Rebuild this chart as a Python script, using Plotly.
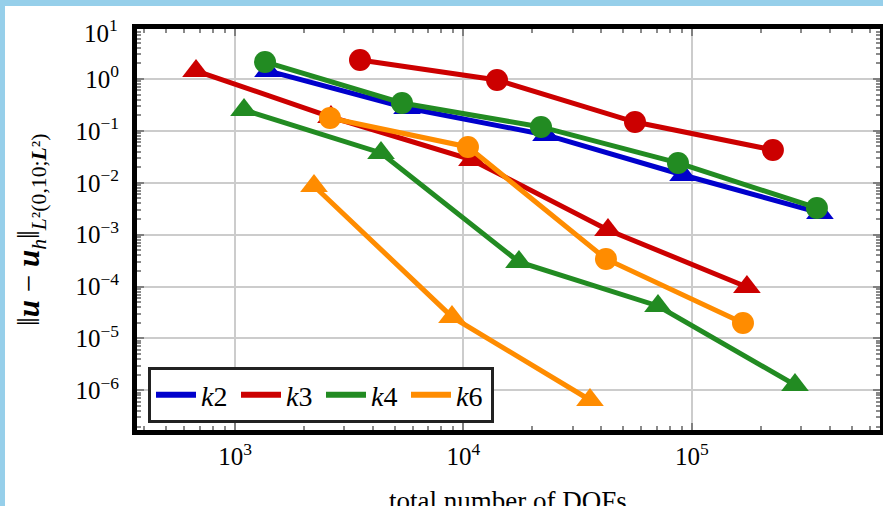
import plotly.graph_objects as go

# ---------------- data ----------------
series_names = ["k2", "k3", "k4", "k6"]
series_colors = ["#0000cc", "#cc0000", "#228b22", "#ff8c00"]

k2_tri_dofs = [1394, 5662, 22970, 91400, 363100]
k2_tri_err = [1.43, 0.276, 0.0834, 0.0141, 0.00262]

k3_circ_dofs = [3524, 14020, 56310, 226100]
k3_circ_err = [2.32, 0.957, 0.148, 0.0429]
k3_tri_dofs = [675, 2630, 10890, 42890, 174000]
k3_tri_err = [1.43, 0.185, 0.0275, 0.00123, 9.8e-5]

k4_circ_dofs = [1353, 5380, 21840, 86850, 352300]
k4_circ_err = [2.13, 0.345, 0.119, 0.0241, 0.00327]
k4_tri_dofs = [1095, 4355, 17490, 71000, 282400]
k4_tri_err = [0.253, 0.0375, 2.98e-4, 4.22e-5, 1.27e-6]

k6_circ_dofs = [2604, 10460, 42030, 167200]
k6_circ_err = [0.177, 0.049, 3.40e-4, 1.99e-5]
k6_tri_dofs = [2217, 8906, 35780]
k6_tri_err = [8.68e-3, 2.6e-5, 6.5e-7]

x_tick_vals = [1e3, 1e4, 1e5]
x_tick_text = ["10<sup>3</sup>", "10<sup>4</sup>", "10<sup>5</sup>"]
y_tick_vals = [1e0, 1e-1, 1e-2, 1e-3, 1e-4, 1e-5, 1e-6]
y_tick_text = ["10<sup>0</sup>", "10<sup>−1</sup>", "10<sup>−2</sup>", "10<sup>−3</sup>",
               "10<sup>−4</sup>", "10<sup>−5</sup>", "10<sup>−6</sup>"]
y_top_label = "10<sup>1</sup>"

x_range_log = [2.571, 5.823]
y_range_log = [-6.765, 0.963]

# ---------------- layout geometry ----------------
W, H = 883, 506
PL, PR, PT, PB = 137, 880, 29, 430
FONT = "Liberation Serif"
LW = 5

def px_x(p):
    return (p - PL) / (PR - PL)

def px_y(p):
    return (PB - p) / (PB - PT)

fig = go.Figure()

def add_series(xs, ys, color, symbol, size):
    fig.add_trace(go.Scatter(
        x=xs, y=ys, mode="lines+markers", showlegend=False,
        line=dict(color=color, width=LW),
        marker=dict(symbol=symbol, size=size, color=color,
                    line=dict(width=0)),
        hoverinfo="skip"))

TRI, CIRC = 24, 22
add_series(k2_tri_dofs, k2_tri_err, series_colors[0], "triangle-up", TRI)
add_series(k3_circ_dofs, k3_circ_err, series_colors[1], "circle", CIRC)
add_series(k3_tri_dofs, k3_tri_err, series_colors[1], "triangle-up", TRI)
add_series(k4_circ_dofs, k4_circ_err, series_colors[2], "circle", CIRC)
add_series(k4_tri_dofs, k4_tri_err, series_colors[2], "triangle-up", TRI)
add_series(k6_circ_dofs, k6_circ_err, series_colors[3], "circle", CIRC)
add_series(k6_tri_dofs, k6_tri_err, series_colors[3], "triangle-up", TRI)

# legend entries (line only)
for name, color in zip(series_names, series_colors):
    fig.add_trace(go.Scatter(
        x=[None], y=[None], mode="lines", name="<i>k</i>" + name[1:],
        line=dict(color=color, width=6)))

minor = dict(ticks="inside", ticklen=4, tickwidth=1.5, tickcolor="#8a8a8a",
             dtick="D1", showgrid=False)

axis_common = dict(
    type="log", showline=True, linecolor="black", linewidth=LW, mirror="allticks",
    ticks="inside", ticklen=7, tickwidth=2, tickcolor="#808080",
    showgrid=True, gridcolor="#cccccc", gridwidth=1.5,
    tickmode="array", zeroline=False,
    tickfont=dict(family=FONT, size=25, color="black"),
    minor=minor,
)

fig.update_xaxes(range=x_range_log, tickvals=x_tick_vals, ticktext=x_tick_text,
                 **axis_common)
fig.update_yaxes(range=y_range_log, tickvals=y_tick_vals, ticktext=y_tick_text,
                 ticklabelstandoff=8, **axis_common)

annotations = [
    dict(text=y_top_label, xref="paper", yref="paper",
         x=px_x(120), y=px_y(31), xanchor="right", yanchor="middle",
         showarrow=False, font=dict(family=FONT, size=25, color="black")),
    dict(text="total number of DOFs", xref="paper", yref="paper",
         x=px_x(508), y=px_y(501), xanchor="center", yanchor="middle",
         showarrow=False, font=dict(family=FONT, size=27, color="black")),
    dict(text="‖<b><i>u</i></b> − <b><i>u</i></b><sub><i>h</i></sub>‖"
              "<sub><i>L</i>²(0,10;<b><i>L</i></b>²)</sub>",
         xref="paper", yref="paper", x=px_x(31), y=px_y(230),
         xanchor="center", yanchor="middle", textangle=-90,
         showarrow=False, font=dict(family=FONT, size=31, color="black")),
]

blue = "#96cfea"
shapes = [
    dict(type="rect", xref="paper", yref="paper", layer="above",
         x0=px_x(0), x1=px_x(5), y0=px_y(H), y1=px_y(0),
         fillcolor=blue, line=dict(width=0)),
    dict(type="rect", xref="paper", yref="paper", layer="above",
         x0=px_x(0), x1=px_x(W), y0=px_y(6), y1=px_y(0),
         fillcolor=blue, line=dict(width=0)),
]

fig.update_layout(
    width=W, height=H,
    margin=dict(l=PL, r=W - PR, t=PT, b=H - PB, autoexpand=False),
    paper_bgcolor="white", plot_bgcolor="white",
    font=dict(family=FONT, size=25, color="black"),
    showlegend=True,
    legend=dict(orientation="h", x=px_x(148), y=px_y(423),
                xanchor="left", yanchor="bottom",
                bgcolor="white", bordercolor="#222222", borderwidth=3,
                font=dict(family=FONT, size=28, color="black"),
                itemwidth=40, entrywidth=30, entrywidthmode="pixels",
                tracegroupgap=0),
    annotations=annotations,
    shapes=shapes,
)

fig.write_html(
    "out.html",
    config={"displayModeBar": False},
    post_script="document.body.style.margin='0';document.body.style.overflow='hidden';",
)
